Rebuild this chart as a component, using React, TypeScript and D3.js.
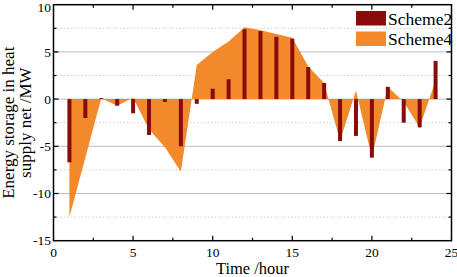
// Heat supply net energy storage chart - Scheme2 bars over Scheme4 area
import React from 'react';
import * as d3 from 'd3';

// hours of the day
const hours = [1, 2, 3, 4, 5, 6, 7, 8, 9, 10, 11, 12, 13, 14, 15, 16, 17, 18, 19, 20, 21, 22, 23, 24];
// Scheme2 net storage (MW), drawn as thin bars
const scheme2 = [-6.7, -2.0, 0.1, -0.7, -1.5, -3.8, -0.3, -5.0, -0.5, 1.1, 2.1, 7.4, 7.2, 6.6, 6.4, 3.4, 1.7, -4.45, -3.9, -6.2, 1.3, -2.5, -3.0, 4.05];
// Scheme4 net storage (MW), drawn as filled area
const scheme4 = [-12.5, -6.2, 0.1, -0.7, 0.15, -3.2, -5.1, -7.7, 3.6, 5.0, 6.1, 7.6, 7.3, 6.9, 6.5, 3.45, 1.7, -4.45, 0.9, -6.2, 1.3, -0.3, -3.0, 2.0];

const xTicks = [0, 5, 10, 15, 20, 25];
const xMinorTicks = [2.5, 7.5, 12.5, 17.5, 22.5];
const yTicks = [-15, -10, -5, 0, 5, 10];
const yMinorTicks = [-12.5, -7.5, -2.5, 2.5, 7.5];
const legendItems = ['Scheme2', 'Scheme4'];

const BAR_COLOR = '#8b0a0a';
const AREA_COLOR = '#f28a2c';
const FONT = '"Liberation Serif", "Times New Roman", serif';

export default function App() {
  const width = 457, height = 277;
  const margin = { top: 4.7, right: 5.5, bottom: 36.3, left: 53.5 };
  const x0 = margin.left, x1 = width - margin.right;
  const y0 = margin.top, y1 = height - margin.bottom;

  // linear scales for hour and MW
  const x = d3.scaleLinear().domain([0, 25]).range([x0, x1]);
  const y = d3.scaleLinear().domain([-15, 10]).range([y1, y0]);

  const data = hours.map((h, i) => ({ h, s2: scheme2[i], s4: scheme4[i] }));

  // area filled from the zero line
  const area = d3.area<{ h: number; s4: number }>()
    .x(d => x(d.h))
    .y0(y(0))
    .y1(d => y(d.s4));

  const barW = 4;

  return (
    <svg width={width} height={height} style={{ position: 'absolute', left: 0, top: 0, background: '#fff' }} fontFamily={FONT}>
      {/* horizontal grid lines: solid at majors, dotted at minors */}
      {yTicks.filter(v => v > -15 && v < 10).map(v => (
        <line key={`g${v}`} x1={x0} x2={x1} y1={y(v)} y2={y(v)} stroke="#bdbdbd" strokeWidth={1} />
      ))}
      {yMinorTicks.map(v => (
        <line key={`gm${v}`} x1={x0} x2={x1} y1={y(v)} y2={y(v)} stroke="#cfcfcf" strokeWidth={1} strokeDasharray="1.5,2" />
      ))}

      {/* Scheme4 area */}
      <path d={area(data) || ''} fill={AREA_COLOR} />

      {/* Scheme2 bars */}
      {data.map(d => (
        <rect key={`b${d.h}`} x={x(d.h) - barW / 2} width={barW}
          y={Math.min(y(d.s2), y(0))} height={Math.abs(y(d.s2) - y(0))} fill={BAR_COLOR} />
      ))}

      {/* frame */}
      <rect x={x0} y={y0} width={x1 - x0} height={y1 - y0} fill="none" stroke="#000" strokeWidth={1.5} />

      {/* x ticks, bottom and top, pointing inward */}
      {xTicks.filter(v => v > 0 && v < 25).map(v => (
        <g key={`xt${v}`}>
          <line x1={x(v)} x2={x(v)} y1={y1} y2={y1 - 5} stroke="#000" strokeWidth={1.2} />
          <line x1={x(v)} x2={x(v)} y1={y0} y2={y0 + 5} stroke="#000" strokeWidth={1.2} />
        </g>
      ))}
      {xMinorTicks.map(v => (
        <g key={`xm${v}`}>
          <line x1={x(v)} x2={x(v)} y1={y1} y2={y1 - 3} stroke="#000" strokeWidth={1.2} />
          <line x1={x(v)} x2={x(v)} y1={y0} y2={y0 + 3} stroke="#000" strokeWidth={1.2} />
        </g>
      ))}
      {/* y ticks, left and right, pointing inward */}
      {yTicks.filter(v => v > -15 && v < 10).map(v => (
        <g key={`yt${v}`}>
          <line x1={x0} x2={x0 + 5} y1={y(v)} y2={y(v)} stroke="#000" strokeWidth={1.2} />
          <line x1={x1} x2={x1 - 5} y1={y(v)} y2={y(v)} stroke="#000" strokeWidth={1.2} />
        </g>
      ))}
      {yMinorTicks.map(v => (
        <g key={`ym${v}`}>
          <line x1={x0} x2={x0 + 3} y1={y(v)} y2={y(v)} stroke="#000" strokeWidth={1.2} />
          <line x1={x1} x2={x1 - 3} y1={y(v)} y2={y(v)} stroke="#000" strokeWidth={1.2} />
        </g>
      ))}

      {/* tick labels */}
      {xTicks.map(v => (
        <text key={`xl${v}`} x={x(v)} y={257} textAnchor="middle" fontSize={13.5}>{v}</text>
      ))}
      {yTicks.map(v => (
        <text key={`yl${v}`} x={51} y={Math.max(y(v), 7)} dy="0.35em" textAnchor="end" fontSize={13.5}>{v}</text>
      ))}

      {/* axis titles */}
      <text x={(x0 + x1) / 2} y={274} textAnchor="middle" fontSize={16.5}>Time /hour</text>
      <text transform={`translate(14, ${(y0 + y1) / 2}) rotate(-90)`} textAnchor="middle" fontSize={17}>Energy storage in heat</text>
      <text transform={`translate(30.5, ${(y0 + y1) / 2}) rotate(-90)`} textAnchor="middle" fontSize={17}>supply net /MW</text>

      {/* legend */}
      {legendItems.map((name, i) => (
        <g key={name} transform={`translate(356, ${11 + i * 20.5})`}>
          <rect width={30} height={14.5} fill={i === 0 ? BAR_COLOR : AREA_COLOR} />
          <text x={32} y={13.5} fontSize={17.5}>{name}</text>
        </g>
      ))}
    </svg>
  );
}
